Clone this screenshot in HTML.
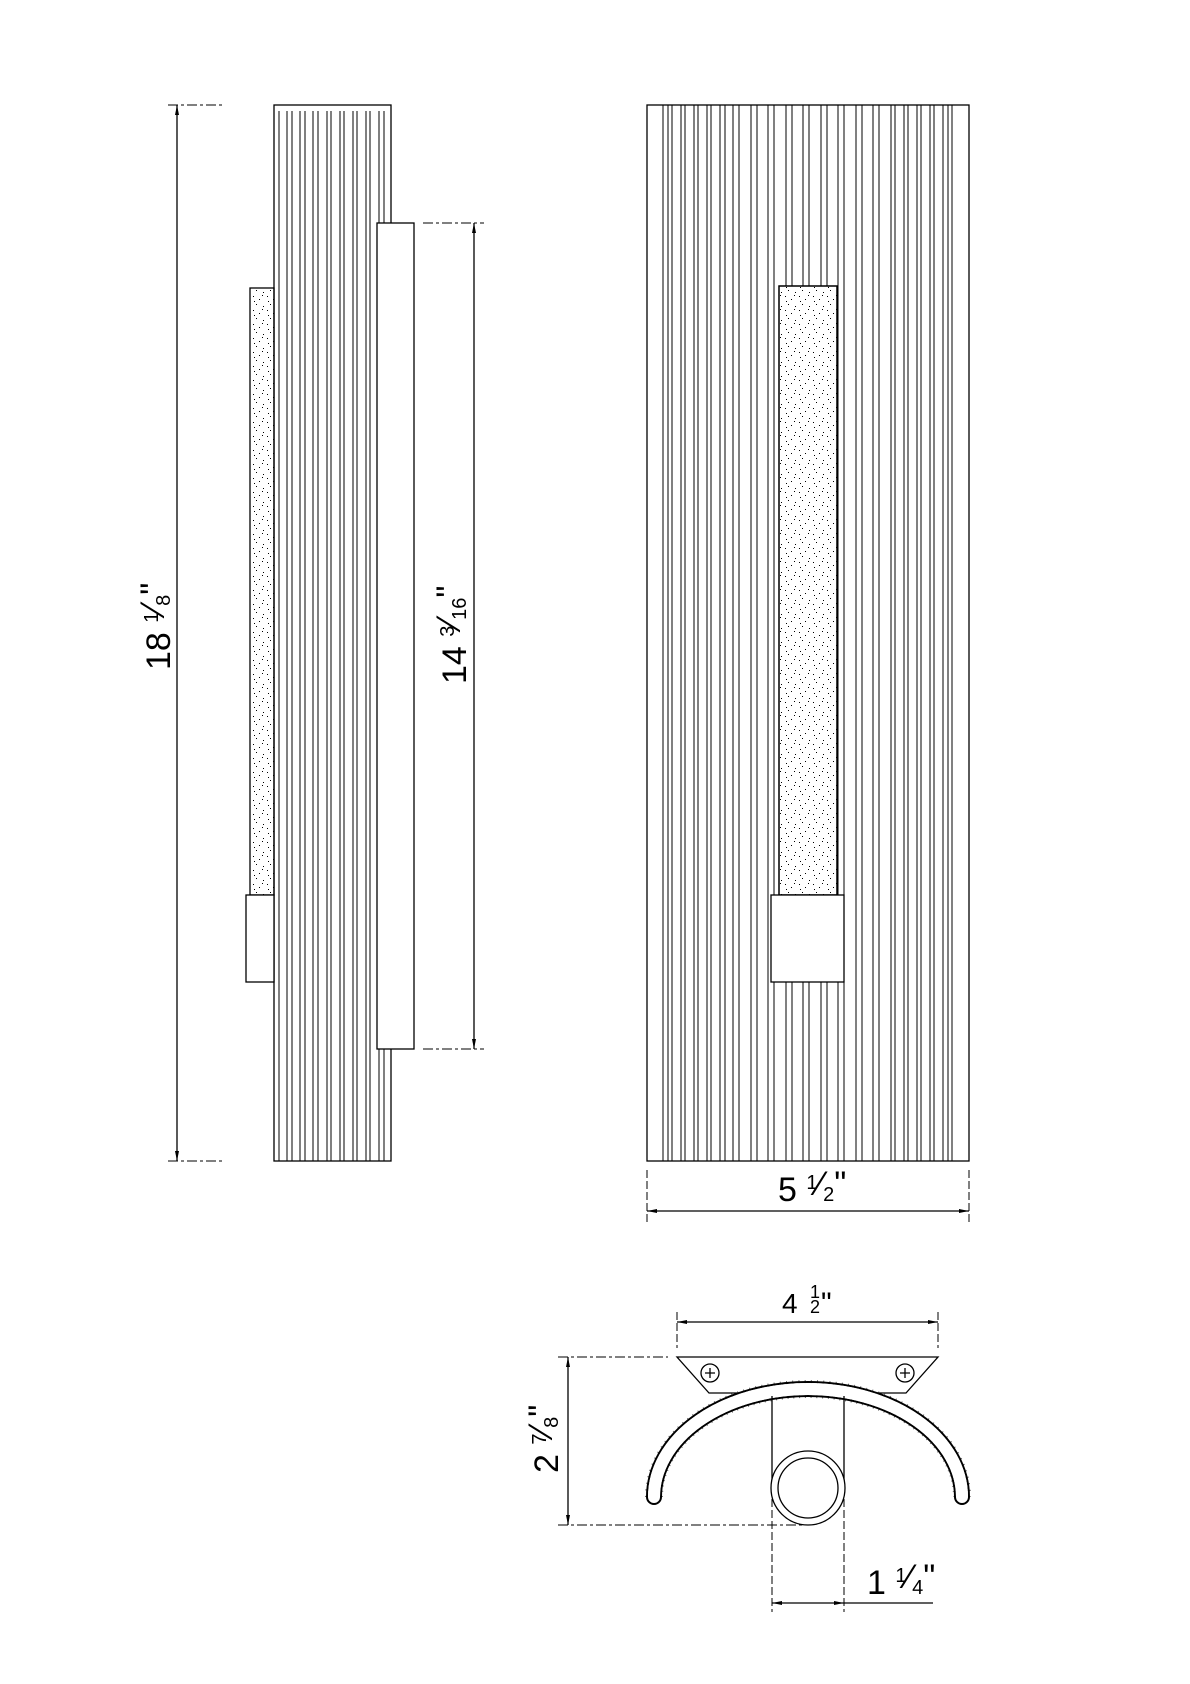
<!DOCTYPE html>
<html><head><meta charset="utf-8"><style>html,body{margin:0;padding:0;background:#fff}svg{display:block}</style></head>
<body>
<svg width="1190" height="1684" viewBox="0 0 1190 1684" xmlns="http://www.w3.org/2000/svg" font-family="Liberation Sans, sans-serif">
<defs>
<pattern id="dots" width="14" height="14" patternUnits="userSpaceOnUse">
<rect x="1" y="2" width="1" height="1" fill="#000"/><rect x="7" y="5" width="1" height="1" fill="#000"/><rect x="4" y="10" width="1" height="1" fill="#000"/><rect x="11" y="12" width="1" height="1" fill="#000"/><rect x="10" y="1" width="1" height="1" fill="#000"/><rect x="2" y="7" width="1" height="1" fill="#000"/>
</pattern>
<marker id="ar" viewBox="0 0 10 4" refX="10" refY="2" markerWidth="10" markerHeight="4" markerUnits="userSpaceOnUse" orient="auto-start-reverse"><path d="M0,0 L10,2 L0,4z" fill="#000"/></marker>
</defs>
<g stroke="#000" fill="none" stroke-width="1.3">
<rect x="274" y="105" width="117" height="1056" fill="#fff"/>
<g stroke-width="1">
<path d="M279 111V1161M287 111V1161M292 111V1161M300 111V1161M305 111V1161M313 111V1161M318 111V1161M327 111V1161M331 111V1161M340 111V1161M344 111V1161M353 111V1161M357 111V1161M366 111V1161M370 111V1161M379 111V1161M384 111V1161"/>
</g>
<rect x="377" y="223" width="37" height="826" fill="#fff"/>
<rect x="250" y="288" width="24" height="607" fill="url(#dots)"/>
<rect x="246" y="895" width="28" height="87" fill="#fff"/>
<line x1="177" y1="105" x2="177" y2="1161" marker-start="url(#ar)" marker-end="url(#ar)"/>
<path d="M168 105H225M168 1161H225" stroke-dasharray="10 3 3 3" stroke-width="1"/>
<line x1="474" y1="223" x2="474" y2="1049" marker-start="url(#ar)" marker-end="url(#ar)"/>
<path d="M423 223H484M423 1049H484" stroke-dasharray="10 3 3 3" stroke-width="1"/>
<rect x="647" y="105" width="322" height="1056" fill="#fff"/>
<g stroke-width="1">
<path d="M663 105V1161M668 105V1161M672 105V1161M681 105V1161M685 105V1161M694 105V1161M698 105V1161M707 105V1161M711 105V1161M720 105V1161M725 105V1161M733 105V1161M739 105V1161M751 105V1161M757 105V1161M768 105V1161M774 105V1161M786 105V1161M792 105V1161M803 105V1161M809 105V1161M821 105V1161M827 105V1161M838 105V1161M844 105V1161M856 105V1161M862 105V1161M873 105V1161M879 105V1161M891 105V1161M895 105V1161M904 105V1161M908 105V1161M917 105V1161M921 105V1161M930 105V1161M934 105V1161M943 105V1161M948 105V1161M952 105V1161"/>
</g>
<rect x="779" y="286" width="58" height="609" fill="#fff"/>
<rect x="779" y="286" width="58" height="609" fill="url(#dots)"/>
<rect x="771" y="895" width="73" height="87" fill="#fff"/>
<line x1="647" y1="1211" x2="969" y2="1211" marker-start="url(#ar)" marker-end="url(#ar)"/>
<path d="M647 1170V1222M969 1170V1222" stroke-dasharray="8 3" stroke-width="1"/>
<line x1="677" y1="1322" x2="938" y2="1322" marker-start="url(#ar)" marker-end="url(#ar)"/>
<path d="M677 1312V1348M938 1312V1348" stroke-dasharray="8 3" stroke-width="1"/>
<polygon points="677,1357 938,1357 906,1393 709,1393" fill="#fff"/>
<circle cx="710" cy="1373" r="9"/><path d="M705 1373h10M710 1368v10"/>
<circle cx="905" cy="1373" r="9"/><path d="M900 1373h10M905 1368v10"/>
<path d="M654 1497 A154 108 0 0 1 962 1497" stroke-width="16" stroke-linecap="round"/>
<path d="M654 1497 A154 108 0 0 1 962 1497" stroke="#fff" stroke-width="12" stroke-linecap="round"/>
<path d="M654 1497 A154 108 0 0 1 962 1497" stroke-width="18" stroke-dasharray="1 5" stroke-opacity="0.6"/>
<path d="M654 1497 A154 108 0 0 1 962 1497" stroke="#fff" stroke-width="12"/>
<path d="M772 1396V1488M844 1396V1488"/>
<path d="M772 1488V1612M844 1488V1612" stroke-dasharray="8 3" stroke-width="1"/>
<circle cx="808" cy="1488" r="37" fill="#fff"/>
<circle cx="808" cy="1488" r="30"/>
<line x1="568" y1="1357" x2="568" y2="1525" marker-start="url(#ar)" marker-end="url(#ar)"/>
<path d="M558 1357H668M558 1525H808" stroke-dasharray="10 3 3 3" stroke-width="1"/>
<line x1="772" y1="1603" x2="844" y2="1603" marker-start="url(#ar)" marker-end="url(#ar)"/>
<line x1="844" y1="1603" x2="933" y2="1603"/>
</g>
<g fill="#000">
<text transform="translate(170,670) rotate(-90)" font-size="34">18 <tspan font-size="20" dy="-12">1</tspan><tspan font-size="34" dy="6">⁄</tspan><tspan font-size="20" dy="6">8</tspan><tspan dy="-6">"</tspan></text>
<text transform="translate(466,684) rotate(-90)" font-size="34">14 <tspan font-size="20" dy="-12">3</tspan><tspan font-size="34" dy="6">⁄</tspan><tspan font-size="20" dy="6">16</tspan><tspan dy="-6">"</tspan></text>
<text x="778" y="1201" font-size="34">5 <tspan font-size="20" dy="-12">1</tspan><tspan font-size="34" dy="6">⁄</tspan><tspan font-size="20" dy="6">2</tspan><tspan dy="-6">"</tspan></text>
<text x="782" y="1313" font-size="28">4</text>
<text x="810" y="1298" font-size="18">1</text>
<text x="810" y="1313" font-size="18">2</text>
<text x="821" y="1313" font-size="30">"</text>
<text x="867" y="1594" font-size="34">1 <tspan font-size="20" dy="-12">1</tspan><tspan font-size="34" dy="6">⁄</tspan><tspan font-size="20" dy="6">4</tspan><tspan dy="-6">"</tspan></text>
<text transform="translate(558,1473) rotate(-90)" font-size="34">2 <tspan font-size="20" dy="-12">7</tspan><tspan font-size="34" dy="6">⁄</tspan><tspan font-size="20" dy="6">8</tspan><tspan dy="-6">"</tspan></text>
</g>
</svg>
</body></html>
